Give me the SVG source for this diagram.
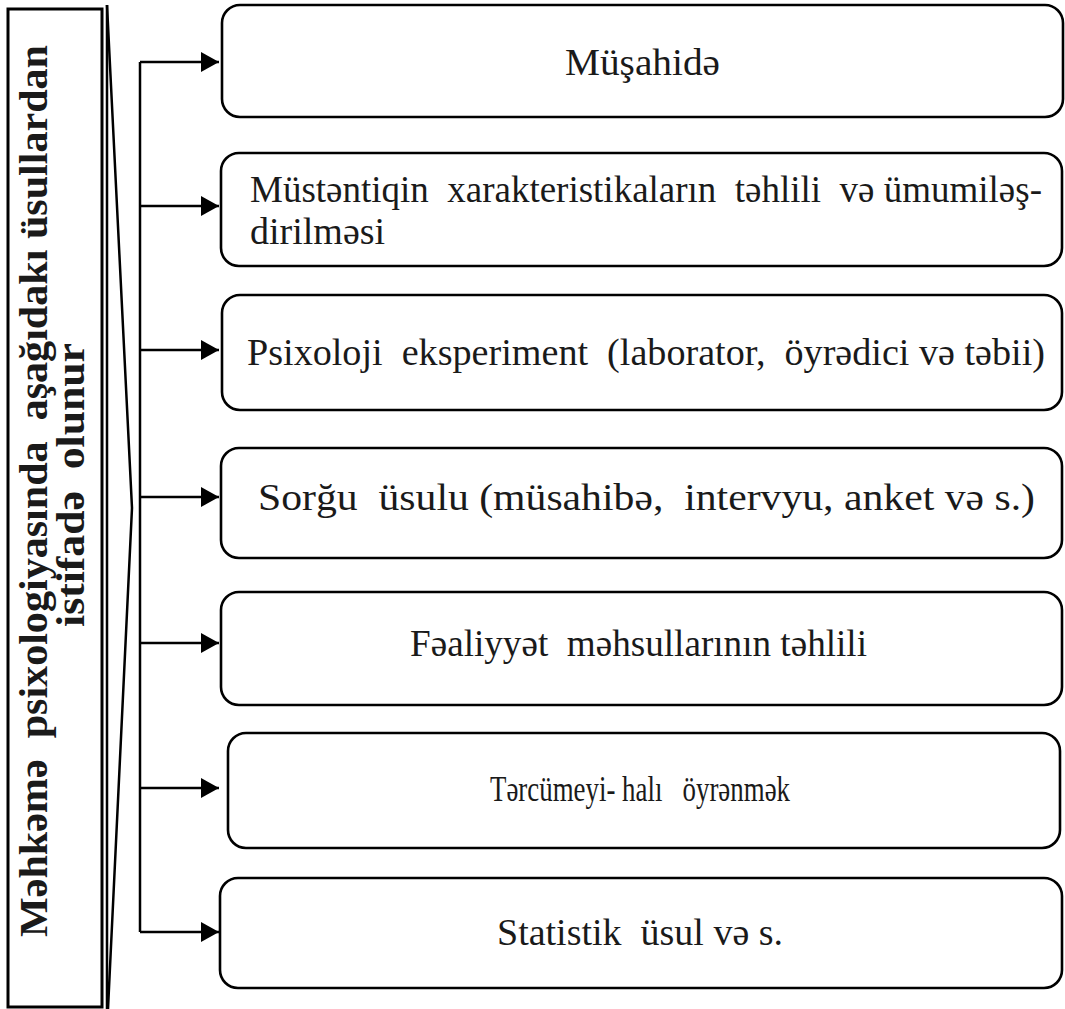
<svg xmlns="http://www.w3.org/2000/svg" width="1065" height="1009" viewBox="0 0 1065 1009">
<style>
.box{fill:#fff;stroke:#000;stroke-width:2.6}
.t{font-family:'Liberation Serif','Times New Roman',serif;font-size:38px;fill:#1a1a1a;white-space:pre}
.tb{font-family:'Liberation Serif','Times New Roman',serif;font-size:39px;font-weight:bold;fill:#1a1a1a;white-space:pre}
.ln{fill:none;stroke:#000;stroke-width:2.5}
</style>
<defs>
<marker id="ah" viewBox="0 0 18 20" refX="18" refY="10" markerWidth="18" markerHeight="20" markerUnits="userSpaceOnUse" orient="auto">
<path d="M0,0 L18,10 L0,20 Z" fill="#000"/>
</marker>
</defs>
<g id="main">
<rect x="8" y="9" width="94" height="998" fill="#fff" stroke="#000" stroke-width="3"/>
<text class="tb" transform="translate(47,491) rotate(-90)" text-anchor="middle" textLength="892" lengthAdjust="spacingAndGlyphs">Məhkəmə  psixologiyasında  aşağıdakı üsullardan</text>
<text class="tb" transform="translate(84,485) rotate(-90)" text-anchor="middle" textLength="284" lengthAdjust="spacingAndGlyphs">istifadə  olunur</text>
</g>
<g id="chevron">
<path class="ln" d="M107,5 L107,1009"/>
<path class="ln" d="M107,5 L132,508 L108,1009" stroke-width="2"/>
</g>
<g id="connectors">
<path class="ln" d="M140,62 L140,932" stroke-width="3"/>
<path class="ln" d="M140,62 L219,62" marker-end="url(#ah)"/>
<path class="ln" d="M140,206 L219,206" marker-end="url(#ah)"/>
<path class="ln" d="M140,350 L219,350" stroke-width="4" marker-end="url(#ah)"/>
<path class="ln" d="M140,497 L219,497" marker-end="url(#ah)"/>
<path class="ln" d="M140,643 L219,643" marker-end="url(#ah)"/>
<path class="ln" d="M140,788 L219,788" marker-end="url(#ah)"/>
<path class="ln" d="M140,932 L219,932" marker-end="url(#ah)"/>
</g>
<g id="n1">
<rect class="box" x="222" y="5" width="841" height="112" rx="18"/>
<text class="t" x="565" y="75" textLength="155" lengthAdjust="spacingAndGlyphs">Müşahidə</text>
</g>
<g id="n2">
<rect class="box" x="221" y="153" width="841" height="113" rx="18"/>
<text class="t" x="250" y="202" textLength="792" lengthAdjust="spacingAndGlyphs">Müstəntiqin  xarakteristikaların  təhlili  və ümumiləş-</text>
<text class="t" x="250" y="244">dirilməsi</text>
</g>
<g id="n3">
<rect class="box" x="222" y="295" width="840" height="115" rx="18"/>
<text class="t" x="247" y="365" textLength="798" lengthAdjust="spacingAndGlyphs">Psixoloji  eksperiment  (laborator,  öyrədici və təbii)</text>
</g>
<g id="n4">
<rect class="box" x="221" y="448" width="841" height="110" rx="18"/>
<text class="t" x="258" y="510" textLength="777" lengthAdjust="spacingAndGlyphs">Sorğu  üsulu (müsahibə,  intervyu, anket və s.)</text>
</g>
<g id="n5">
<rect class="box" x="221" y="592" width="841" height="113" rx="18"/>
<text class="t" x="410" y="656" textLength="457" lengthAdjust="spacingAndGlyphs">Fəaliyyət  məhsullarının təhlili</text>
</g>
<g id="n6">
<rect class="box" x="228" y="733" width="832" height="115" rx="18"/>
<text class="t" x="490" y="801" style="font-size:36px" textLength="300" lengthAdjust="spacingAndGlyphs">Tərcümeyi- halı   öyrənmək</text>
</g>
<g id="n7">
<rect class="box" x="220" y="878" width="842" height="110" rx="18"/>
<text class="t" x="497" y="945">Statistik  üsul və s.</text>
</g>
</svg>
